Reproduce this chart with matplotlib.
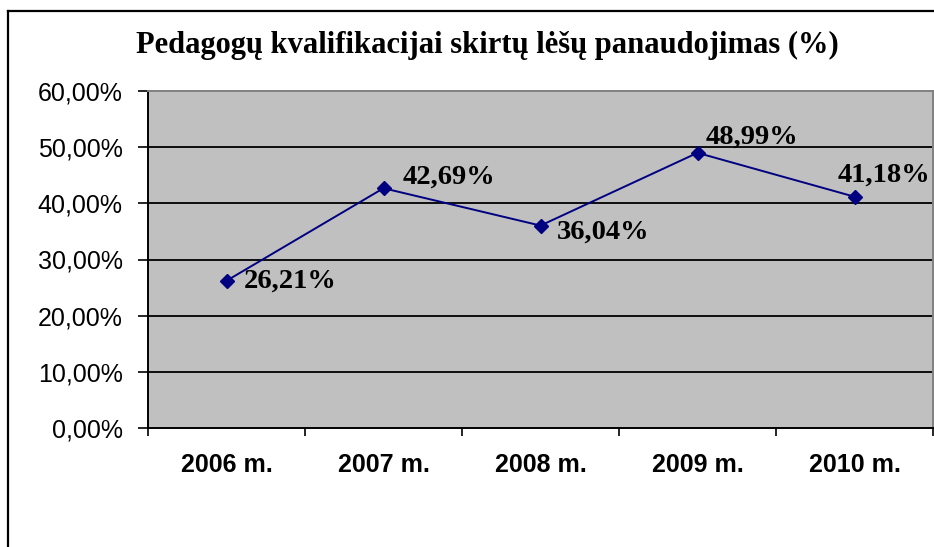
import matplotlib
matplotlib.use("Agg")
import matplotlib.pyplot as plt
from matplotlib.lines import Line2D

categories = ["2006 m.", "2007 m.", "2008 m.", "2009 m.", "2010 m."]
values = [26.21, 42.69, 36.04, 48.99, 41.18]
value_labels = ["26,21%", "42,69%", "36,04%", "48,99%", "41,18%"]
yticks = [0, 10, 20, 30, 40, 50, 60]
ytick_labels = ["0,00%", "10,00%", "20,00%", "30,00%", "40,00%", "50,00%", "60,00%"]
title = "Pedagogų kvalifikacijai skirtų lėšų panaudojimas (%)"

# label offsets in pixels (dx, dy) relative to points
offsets = [(17, 0), (19, 11), (16, -7), (8, 16), (-17, 22)]

W, H = 934, 547
fig = plt.figure(figsize=(W / 100, H / 100), dpi=100)
fig.patch.set_facecolor("white")

# outer chart border (left and top visible)
fig.add_artist(Line2D([8 / W, 8 / W], [0, 1 - 11 / H], transform=fig.transFigure,
                      color="black", lw=1.6))
fig.add_artist(Line2D([8 / W, 1], [1 - 11 / H, 1 - 11 / H], transform=fig.transFigure,
                      color="black", lw=1.6))

ax = fig.add_axes([148 / W, 1 - 428 / H, 785 / W, 337 / H])
ax.set_facecolor("#C0C0C0")
x = list(range(len(categories)))
ax.set_xlim(-0.5, len(categories) - 0.5)
ax.set_ylim(0, 60)

for yv in yticks[1:-1]:
    ax.axhline(yv, color="black", lw=1.3, zorder=1)

ax.plot(x, values, color="#000080", lw=1.4, marker="D", markersize=7,
        markerfacecolor="#000080", markeredgecolor="#000080", zorder=3)

for xi, v, lab, (dx, dy) in zip(x, values, value_labels, offsets):
    ax.annotate(lab, (xi, v), xytext=(dx, dy), textcoords="offset pixels",
                ha="left", va="center", fontsize=20.5, fontweight="bold",
                family="Liberation Serif", color="black", annotation_clip=False, zorder=4)

ax.set_yticks(yticks)
ax.set_yticklabels(ytick_labels, family="Liberation Sans", fontsize=18)
ax.tick_params(axis="y", direction="out", length=7.2, width=1.2, pad=11, colors="black")

ax.set_xticks([i - 0.5 for i in range(len(categories) + 1)])
ax.set_xticklabels([])
ax.set_xticks(x, minor=True)
ax.set_xticklabels(categories, minor=True, family="Liberation Sans", fontsize=18,
                   fontweight="bold")
ax.tick_params(axis="x", which="major", direction="out", length=6, width=1.2)
ax.tick_params(axis="x", which="minor", length=0, pad=18)

for s in ["left", "bottom"]:
    ax.spines[s].set_color("black")
    ax.spines[s].set_linewidth(1.4)
for s in ["top", "right"]:
    ax.spines[s].set_color("#808080")
    ax.spines[s].set_linewidth(1.4)

fig.text(487 / W, 1 - 45 / H, title, ha="center", va="center", fontsize=22,
         fontweight="bold", family="Liberation Serif")

fig.savefig("out.png", dpi=100)
